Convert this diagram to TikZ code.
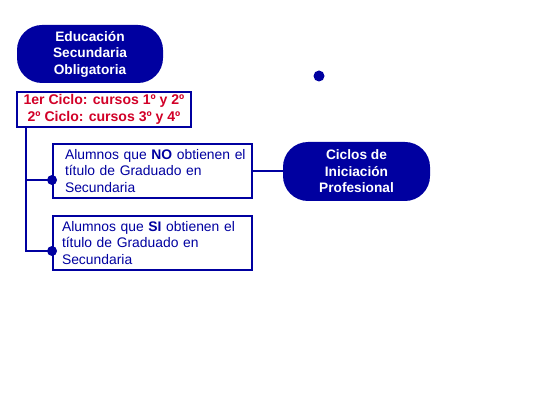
\documentclass[tikz,border=0pt]{standalone}
\usepackage{fontspec}
\setmainfont{Liberation Sans}
\usetikzlibrary{positioning}

\definecolor{esoblue}{RGB}{0,0,160}
\definecolor{esored}{RGB}{210,0,40}

\begin{document}
\begin{tikzpicture}[
        titlebox/.style={rectangle, rounded corners=0.5cm, fill=esoblue, text=white, minimum width=2.92cm, minimum height=1.16cm, align=center, font=\fontsize{7.8}{9.4}\selectfont\bfseries},
        cyclebox/.style={rectangle, draw=esoblue, line width=1.1pt, fill=white, minimum width=3.48cm, minimum height=0.70cm, align=center, text=esored, inner sep=1pt, font=\fontsize{8}{9.4}\selectfont\bfseries},
        pupilbox/.style={rectangle, draw=esoblue, line width=1.1pt, fill=white, minimum width=3.98cm, minimum height=1.08cm, text width=3.9cm, align=left, text=esoblue, inner sep=0.5pt, font=\fontsize{7.9}{9.4}\selectfont},
        link/.style={esoblue, line width=1.1pt},
        knob/.style={circle, fill=esoblue, inner sep=0pt, minimum size=0.2cm},
    ]
        \useasboundingbox (0,0) rectangle (11,-8);

        % Title
        \node[titlebox] (eso) at (1.8,-1.08) {Educación\\Secundaria\\Obligatoria};
        \node[cyclebox] (cycles) at (2.08,-2.19) {1er Ciclo: cursos 1º y 2º\\2º Ciclo: cursos 3º y 4º};

        % Loose dot
        \node[knob, minimum size=0.22cm] (dot) at (6.38,-1.52) {};

        % Two groups of pupils
        \node[pupilbox] (no) at (3.05,-3.42) {\hspace*{0.2cm}Alumnos que \textbf{NO} obtienen el\\\hspace*{0.2cm}título de Graduado en\\\hspace*{0.2cm}Secundaria};
        \node[pupilbox] (si) at (3.05,-4.86) {\hspace*{0.14cm}Alumnos que \textbf{SI} obtienen el\\\hspace*{0.14cm}título de Graduado en\\\hspace*{0.14cm}Secundaria};

        % Programme
        \node[titlebox, minimum width=2.94cm, minimum height=1.18cm] (pcpi) at (7.13,-3.43) {Ciclos de\\Iniciación\\Profesional};

        % Branches
        \coordinate (trunk) at ([xshift=0.2cm]cycles.south west);
        \node[knob] (noknob) at ([yshift=-0.18cm]no.west) {};
        \node[knob] (siknob) at ([yshift=-0.16cm]si.west) {};
        \draw[link] (trunk) |- (siknob.center);
        \draw[link] (trunk |- noknob) -- (noknob.center);
        \draw[link, line width=1.4pt] (no.east) -- (no.east -| pcpi.west);
    \end{tikzpicture}
\end{document}
